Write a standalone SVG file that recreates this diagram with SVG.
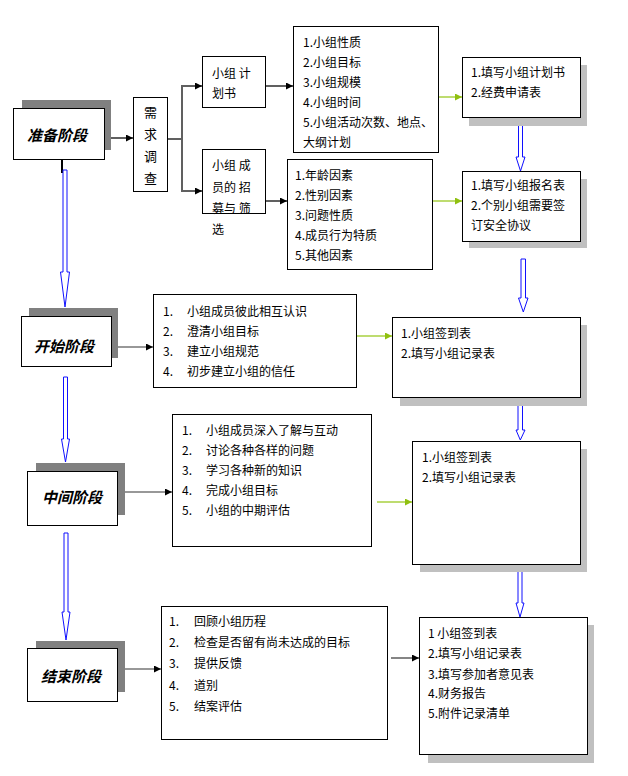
<svg xmlns="http://www.w3.org/2000/svg" width="628" height="776" viewBox="0 0 628 776">
<style>
.box{fill:#fff;stroke:#000;stroke-width:1}
.sh1{fill:#808080}
.sh2{fill:#c0c0c0}
.t{font-family:"Noto Sans CJK SC","Liberation Sans",sans-serif;font-size:12px;fill:#000}
.tv{font-family:"Noto Sans CJK SC","Liberation Sans",sans-serif;font-size:13px;fill:#000}
.stage{font-family:"Noto Sans CJK SC","Liberation Serif",serif;font-size:15px;font-style:italic;font-weight:bold;fill:#000}
.ln{fill:none;stroke:#606060;stroke-width:2}
.lk{fill:none;stroke:#333;stroke-width:1.2}
.lg{fill:none;stroke:#a8d040;stroke-width:1.5}
.ba{fill:#fff;stroke:#1010ff;stroke-width:1}
</style>
<defs>
<marker id="ah" viewBox="0 0 10 10" refX="10" refY="5" markerWidth="8" markerHeight="7" markerUnits="userSpaceOnUse" orient="auto"><path d="M0,0L10,5L0,10z" fill="#000"/></marker>
<marker id="ag" viewBox="0 0 10 10" refX="10" refY="5" markerWidth="8" markerHeight="7" markerUnits="userSpaceOnUse" orient="auto"><path d="M0,0L10,5L0,10z" fill="#90c010"/></marker>
</defs>

<g id="connectors">
<path class="ln" d="M105,138H133" marker-end="url(#ah)"/>
<path class="ln" d="M168,139H182V86H202" marker-end="url(#ah)"/>
<path class="ln" d="M182,139V191H202" marker-end="url(#ah)"/>
<path class="ln" d="M266,86H293" marker-end="url(#ah)"/>
<path class="ln" d="M266,201H287" marker-end="url(#ah)"/>
<path class="lg" d="M439,97H462" marker-end="url(#ag)"/>
<path class="lg" d="M433,201H462" marker-end="url(#ag)"/>
<path class="lk" d="M118,347H153" marker-end="url(#ah)"/>
<path class="lg" d="M357,336H392" marker-end="url(#ag)"/>
<path class="lk" d="M125,492H172" marker-end="url(#ah)"/>
<path class="lg" d="M377,502H412" marker-end="url(#ag)"/>
<path class="lk" d="M125,669H161" marker-end="url(#ah)"/>
<path class="lk" d="M391,658H419" marker-end="url(#ah)"/>
<line x1="62" y1="146" x2="62" y2="173" stroke="#000" stroke-width="2"/>
<polygon class="ba" points="63,170 67,170 67,272 69.5,272 65,307 60.5,272 63,272"/>
<polygon class="ba" points="63.5,377 67.5,377 67.5,439 69.5,439 65.5,462 61.5,439 63.5,439"/>
<polygon class="ba" points="64,533 68,533 68,612 70,612 66,640 62,612 64,612"/>
<polygon class="ba" points="518.5,118 522.5,118 522.5,157 525,157 520.5,171 516,157 518.5,157"/>
<polygon class="ba" points="521,259 525.5,259 525.5,298 528,298 523.3,312 518.5,298 521,298"/>
<polygon class="ba" points="518,398 522.5,398 522.5,430 525,430 520.3,440 516,430 518,430"/>
<polygon class="ba" points="518,564 522,564 522,603 524,603 520,617 516,603 518,603"/>
</g>

<g id="stage1">
<rect class="sh1" x="22" y="100" width="89" height="50"/>
<rect class="box" x="13.5" y="108.5" width="91" height="51"/>
<text class="stage" x="57" y="141" text-anchor="middle">准备阶段</text>
</g>
<g id="needs">
<rect class="box" x="133.5" y="97.5" width="34" height="94"/>
<text class="tv" x="150.5" y="117" text-anchor="middle">需</text>
<text class="tv" x="150.5" y="139" text-anchor="middle">求</text>
<text class="tv" x="150.5" y="161" text-anchor="middle">调</text>
<text class="tv" x="150.5" y="183" text-anchor="middle">查</text>
</g>
<g id="plan">
<rect class="box" x="202.5" y="56.5" width="63" height="51"/>
<text class="t" x="212" y="78" xml:space="preserve">小组 计</text>
<text class="t" x="212" y="98">划书</text>
</g>
<g id="recruit">
<rect class="box" x="202.5" y="149.5" width="63" height="64"/>
<text class="t" x="212" y="170" xml:space="preserve">小组 成</text>
<text class="t" x="212" y="192" xml:space="preserve">员的 招</text>
<text class="t" x="212" y="213" xml:space="preserve">募与 筛</text>
<text class="t" x="212" y="234">选</text>
</g>
<g id="planitems">
<rect class="box" x="293.5" y="26.5" width="145" height="126"/>
<text class="t" x="303" y="47">1.小组性质</text>
<text class="t" x="303" y="67">2.小组目标</text>
<text class="t" x="303" y="87">3.小组规模</text>
<text class="t" x="303" y="107">4.小组时间</text>
<text class="t" x="303" y="127">5.小组活动次数、地点、</text>
<text class="t" x="303" y="147">大纲计划</text>
</g>
<g id="recruititems">
<rect class="box" x="287.5" y="159.5" width="145" height="110"/>
<text class="t" x="295" y="180">1.年龄因素</text>
<text class="t" x="295" y="200">2.性别因素</text>
<text class="t" x="295" y="220">3.问题性质</text>
<text class="t" x="295" y="240">4.成员行为特质</text>
<text class="t" x="295" y="260">5.其他因素</text>
</g>
<g id="forms1">
<rect class="sh2" x="469" y="65" width="118" height="61"/>
<rect class="box" x="462.5" y="57.5" width="118" height="60"/>
<text class="t" x="471" y="77">1.填写小组计划书</text>
<text class="t" x="471" y="97">2.经费申请表</text>
</g>
<g id="forms2">
<rect class="sh2" x="469" y="179" width="118" height="69"/>
<rect class="box" x="462.5" y="171.5" width="118" height="70"/>
<text class="t" x="471" y="190">1.填写小组报名表</text>
<text class="t" x="471" y="210">2.个别小组需要签</text>
<text class="t" x="471" y="230">订安全协议</text>
</g>

<g id="stage2">
<rect class="sh1" x="29" y="308" width="89" height="50"/>
<rect class="box" x="21.5" y="316.5" width="90" height="50"/>
<text class="stage" x="64" y="352" text-anchor="middle">开始阶段</text>
</g>
<g id="startitems">
<rect class="box" x="153.5" y="294.5" width="203" height="93"/>
<text class="t" x="163" y="316">1.</text><text class="t" x="187" y="316">小组成员彼此相互认识</text>
<text class="t" x="163" y="336">2.</text><text class="t" x="187" y="336">澄清小组目标</text>
<text class="t" x="163" y="356">3.</text><text class="t" x="187" y="356">建立小组规范</text>
<text class="t" x="163" y="376">4.</text><text class="t" x="187" y="376">初步建立小组的信任</text>
</g>
<g id="forms3">
<rect class="sh2" x="400" y="325" width="187" height="81"/>
<rect class="box" x="392.5" y="317.5" width="188" height="80"/>
<text class="t" x="401" y="338">1.小组签到表</text>
<text class="t" x="401" y="358">2.填写小组记录表</text>
</g>

<g id="stage3">
<rect class="sh1" x="36" y="463" width="89" height="52"/>
<rect class="box" x="27.5" y="471.5" width="90" height="54"/>
<text class="stage" x="72" y="503" text-anchor="middle">中间阶段</text>
</g>
<g id="miditems">
<rect class="box" x="172.5" y="414.5" width="199" height="132"/>
<text class="t" x="182" y="435">1.</text><text class="t" x="206" y="435">小组成员深入了解与互动</text>
<text class="t" x="182" y="455">2.</text><text class="t" x="206" y="455">讨论各种各样的问题</text>
<text class="t" x="182" y="475">3.</text><text class="t" x="206" y="475">学习各种新的知识</text>
<text class="t" x="182" y="495">4.</text><text class="t" x="206" y="495">完成小组目标</text>
<text class="t" x="182" y="515">5.</text><text class="t" x="206" y="515">小组的中期评估</text>
</g>
<g id="forms4">
<rect class="sh2" x="420" y="449" width="167" height="123"/>
<rect class="box" x="412.5" y="441.5" width="168" height="123"/>
<text class="t" x="422" y="462">1.小组签到表</text>
<text class="t" x="422" y="482">2.填写小组记录表</text>
</g>

<g id="stage4">
<rect class="sh1" x="36" y="641" width="89" height="51"/>
<rect class="box" x="27.5" y="648.5" width="90" height="53"/>
<text class="stage" x="71" y="682" text-anchor="middle">结束阶段</text>
</g>
<g id="enditems">
<rect class="box" x="161.5" y="606.5" width="226" height="133"/>
<text class="t" x="169" y="626">1.</text><text class="t" x="194" y="626">回顾小组历程</text>
<text class="t" x="169" y="647">2.</text><text class="t" x="194" y="647">检查是否留有尚未达成的目标</text>
<text class="t" x="169" y="668">3.</text><text class="t" x="194" y="668">提供反馈</text>
<text class="t" x="169" y="690">4.</text><text class="t" x="194" y="690">道别</text>
<text class="t" x="169" y="711">5.</text><text class="t" x="194" y="711">结案评估</text>
</g>
<g id="forms5">
<rect class="sh2" x="428" y="625" width="166" height="138"/>
<rect class="box" x="419.5" y="617.5" width="168" height="137"/>
<text class="t" x="428" y="638">1 小组签到表</text>
<text class="t" x="428" y="658">2.填写小组记录表</text>
<text class="t" x="428" y="679">3.填写参加者意见表</text>
<text class="t" x="428" y="698">4.财务报告</text>
<text class="t" x="428" y="718">5.附件记录清单</text>
</g>
</svg>
